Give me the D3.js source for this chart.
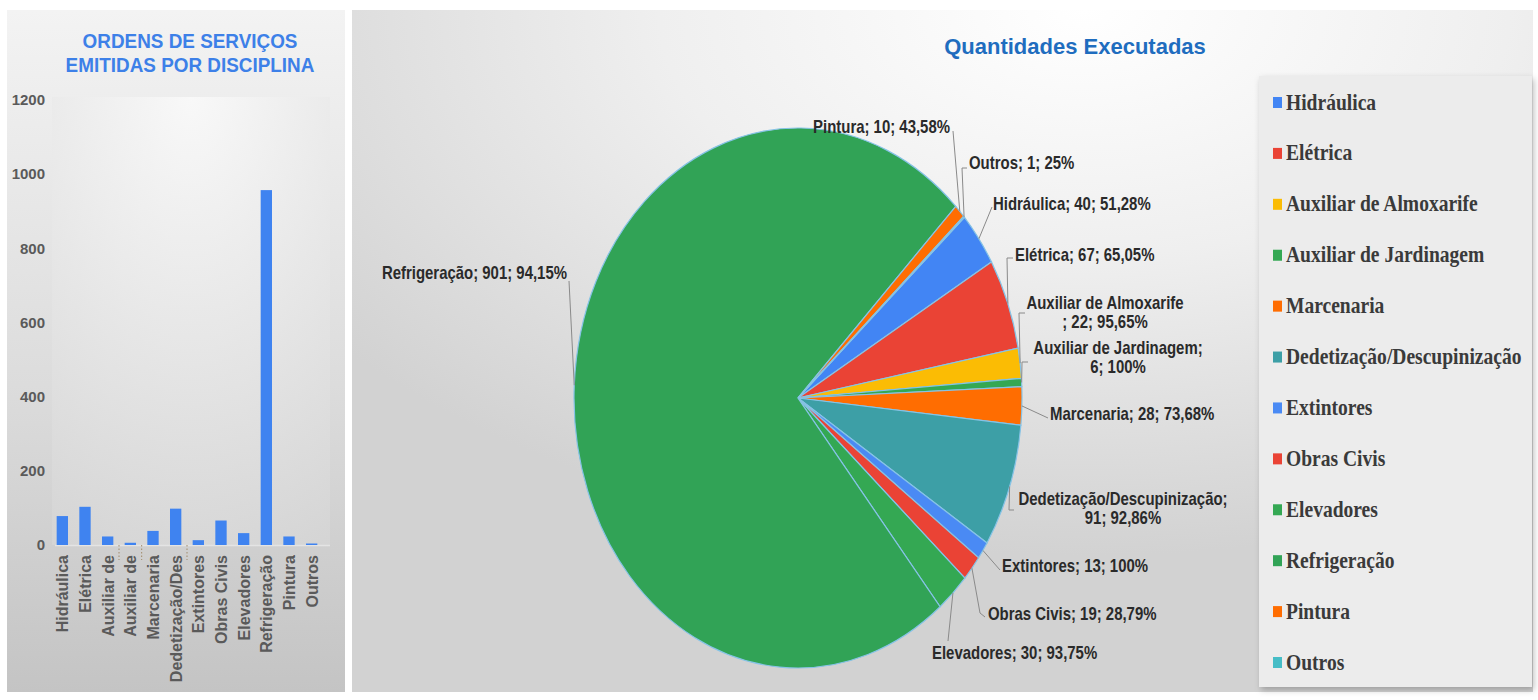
<!DOCTYPE html>
<html>
<head>
<meta charset="utf-8">
<script src="https://cdn.jsdelivr.net/npm/d3@7"></script>
<style>
  body { margin: 0; background: #fff; }
  svg { display: block; }
</style>
</head>
<body>
<svg id="chart" width="1538" height="700"></svg>
<script>
// ---- data ----
const categories = ["Hidráulica", "Elétrica", "Auxiliar de Almoxarife", "Auxiliar de Jardinagem",
  "Marcenaria", "Dedetização/Descupinização", "Extintores", "Obras Civis", "Elevadores",
  "Refrigeração", "Pintura", "Outros"];
const barLabels = ["Hidráulica", "Elétrica", "Auxiliar de", "Auxiliar de", "Marcenaria",
  "Dedetização/Des", "Extintores", "Obras Civis", "Elevadores", "Refrigeração", "Pintura", "Outros"];
const ordensEmitidas = [78, 103, 23, 6, 38, 98, 13, 66, 32, 957, 23, 4];
const executadas = [40, 67, 22, 6, 28, 91, 13, 19, 30, 901, 10, 1];
const percentLabels = ["51,28%", "65,05%", "95,65%", "100%", "73,68%", "92,86%", "100%",
  "28,79%", "93,75%", "94,15%", "43,58%", "25%"];
const yTicks = [0, 200, 400, 600, 800, 1000, 1200];
const sliceColors = ["#4285f4", "#ea4335", "#fbbc04", "#34a853", "#ff6d01", "#3d9fa6",
  "#4a8af4", "#ea4335", "#34a853", "#31a356", "#ff6d01", "#46bdc6"];

// ---- layout ----
const bar = { left: 51, right: 323, top: 100, bottom: 545 };
const pie = { cx: 798, cy: 398, r: 270, sx: 224 / 270, startDeg: 48 };
const labelFont = "'Liberation Sans', Arial, sans-serif";
const NARROW = 0.83;

// label placement per slice (screen px); wrap: how the text breaks into two lines
const labelLayout = [
  { x: 993, y: 209.5, anchor: "start", leader: [[992, 207]] },
  { x: 1015, y: 260.5, anchor: "start", leader: [[1013, 258], [1007, 258]] },
  { x: 1105, y: 308.5, anchor: "middle", wrap: "name", leader: [[1025, 313], [1019, 313]] },
  { x: 1118, y: 353.5, anchor: "middle", wrap: "semi", leader: [[1028, 362], [1022, 362]] },
  { x: 1050, y: 419.5, anchor: "start", leader: [[1048, 418]] },
  { x: 1123, y: 504.5, anchor: "middle", wrap: "semi", leader: [[1014, 510], [1009, 510]] },
  { x: 1002, y: 571.5, anchor: "start", leader: [[1000, 570]] },
  { x: 988, y: 619.5, anchor: "start", leader: [[985, 617], [980, 613]] },
  { x: 932, y: 658.5, anchor: "start", leader: [[948, 641]] },
  { x: 567, y: 278.5, anchor: "end", leader: [[569, 281]] },
  { x: 950, y: 132.5, anchor: "end", leader: [[953, 131]] },
  { x: 969, y: 168.5, anchor: "start", leader: [[967, 168], [962, 168]] }
];

const svg = d3.select("#chart");
const defs = svg.append("defs");

const lg = defs.append("linearGradient").attr("id", "leftBg").attr("x1", 0).attr("y1", 0).attr("x2", 0).attr("y2", 1);
lg.append("stop").attr("offset", 0).attr("stop-color", "#f3f3f3");
lg.append("stop").attr("offset", 0.55).attr("stop-color", "#dcdcdc");
lg.append("stop").attr("offset", 1).attr("stop-color", "#c4c4c4");

const pg = defs.append("radialGradient").attr("id", "plotBg").attr("cx", 0.5).attr("cy", 0).attr("r", 1.1);
pg.append("stop").attr("offset", 0).attr("stop-color", "#fbfbfb");
pg.append("stop").attr("offset", 1).attr("stop-color", "#d6d6d6");

const rg = defs.append("radialGradient").attr("id", "rightBg")
  .attr("cx", 0.62).attr("cy", 0).attr("r", 0.8);
rg.append("stop").attr("offset", 0).attr("stop-color", "#ffffff");
rg.append("stop").attr("offset", 0.45).attr("stop-color", "#efefef");
rg.append("stop").attr("offset", 1).attr("stop-color", "#d2d2d2");

const shadow = defs.append("filter").attr("id", "shadow").attr("x", -0.1).attr("y", -0.1).attr("width", 1.2).attr("height", 1.2);
shadow.append("feDropShadow").attr("dx", 2).attr("dy", 3).attr("stdDeviation", 3)
  .attr("flood-color", "#000").attr("flood-opacity", 0.25);

// ================= left: bar chart =================
svg.append("rect").attr("x", 7).attr("y", 10).attr("width", 338).attr("height", 682)
  .attr("fill", "url(#leftBg)");
svg.append("rect").attr("x", 52).attr("y", 97).attr("width", 278).attr("height", 448)
  .attr("fill", "url(#plotBg)").attr("opacity", 0.8);

const leftTitle = svg.append("g").attr("transform", "translate(190,0) scale(0.9,1)");
leftTitle.append("text")
  .attr("text-anchor", "middle").attr("font-family", labelFont).attr("font-weight", "bold")
  .attr("font-size", 21).attr("fill", "#3d80e8")
  .selectAll("tspan").data(["ORDENS DE SERVIÇOS", "EMITIDAS POR DISCIPLINA"]).join("tspan")
  .attr("x", 0).attr("y", (d, i) => 48 + i * 24).text(d => d);

const x = d3.scaleBand().domain(categories).range([bar.left, bar.right])
  .paddingInner(0.5).paddingOuter(0.25);
const y = d3.scaleLinear().domain([0, 1200]).range([bar.bottom, bar.top]);

const yAxis = svg.append("g").attr("transform", `translate(${bar.left - 6},0)`)
  .call(d3.axisLeft(y).tickValues(yTicks).tickFormat(d3.format("d")).tickSize(0).tickPadding(0));
yAxis.select(".domain").remove();
yAxis.selectAll("text").attr("font-family", labelFont).attr("font-weight", "bold")
  .attr("font-size", 15).attr("fill", "#5a5a5a");

svg.append("line").attr("x1", bar.left + 4).attr("x2", bar.right + 7)
  .attr("y1", bar.bottom + 0.5).attr("y2", bar.bottom + 0.5)
  .attr("stroke", "#e4e4e4").attr("stroke-width", 1.5);

svg.append("g").selectAll("rect").data(ordensEmitidas).join("rect")
  .attr("x", (d, i) => x(categories[i]))
  .attr("y", d => y(d))
  .attr("width", x.bandwidth())
  .attr("height", d => y(0) - y(d))
  .attr("fill", "#3f83f0");

// dotted separators next to cut-off category names
svg.append("g").selectAll("line")
  .data(barLabels.map((l, i) => ({ l, i })).filter(d => d.l !== categories[d.i]))
  .join("line")
  .attr("x1", d => x(categories[d.i]) + x.step() * 0.75)
  .attr("x2", d => x(categories[d.i]) + x.step() * 0.75)
  .attr("y1", bar.bottom).attr("y2", bar.bottom + 15)
  .attr("stroke", "#a08a6a").attr("stroke-dasharray", "1.5,2");

svg.append("g").selectAll("text").data(barLabels).join("text")
  .attr("transform", (d, i) => `translate(${x(categories[i]) + x.bandwidth() / 2 + 6},${bar.bottom + 10}) rotate(-90)`)
  .attr("text-anchor", "end")
  .attr("font-family", labelFont).attr("font-weight", "bold").attr("font-size", 16)
  .attr("fill", "#5a5a5a")
  .text(d => d);

// ================= right: pie chart =================
svg.append("rect").attr("x", 352).attr("y", 10).attr("width", 1181).attr("height", 682)
  .attr("fill", "url(#rightBg)");

svg.append("text").attr("x", 1075).attr("y", 54).attr("text-anchor", "middle")
  .attr("font-family", labelFont).attr("font-weight", "bold").attr("font-size", 22)
  .attr("fill", "#1f6dbf").text("Quantidades Executadas");

const a0 = pie.startDeg * Math.PI / 180;
const arcs = d3.pie().value(d => d).sort(null).startAngle(a0).endAngle(a0 + 2 * Math.PI)(executadas);
const arc = d3.arc().innerRadius(0).outerRadius(pie.r);

svg.append("g")
  .attr("transform", `translate(${pie.cx},${pie.cy}) scale(${pie.sx},1)`)
  .selectAll("path").data(arcs).join("path")
  .attr("d", arc)
  .attr("fill", (d, i) => sliceColors[i])
  .attr("stroke", "#86c3e6").attr("stroke-width", 1.2)
  .attr("vector-effect", "non-scaling-stroke");

const edgePoint = d => {
  const a = (d.startAngle + d.endAngle) / 2;
  return [pie.cx + pie.r * pie.sx * Math.sin(a), pie.cy - pie.r * Math.cos(a)];
};

svg.append("g").selectAll("polyline").data(arcs).join("polyline")
  .attr("points", (d, i) => labelLayout[i].leader.concat([edgePoint(d)]).map(p => p.join(",")).join(" "))
  .attr("fill", "none").attr("stroke", "#8a8a8a").attr("stroke-width", 1);

const labelText = i => {
  const name = categories[i], rest = `${executadas[i]}; ${percentLabels[i]}`;
  const wrap = labelLayout[i].wrap;
  if (wrap === "name") return [name, "; " + rest];
  if (wrap === "semi") return [name + ";", rest];
  return [`${name}; ${rest}`];
};

const labels = svg.append("g").selectAll("g").data(arcs).join("g")
  .attr("transform", (d, i) => `translate(${labelLayout[i].x},${labelLayout[i].y}) scale(${NARROW},1)`);
labels.append("text")
  .attr("text-anchor", (d, i) => labelLayout[i].anchor)
  .attr("font-family", labelFont).attr("font-weight", "bold").attr("font-size", 18)
  .attr("fill", "#2a2a2a")
  .selectAll("tspan").data((d, i) => labelText(i)).join("tspan")
  .attr("x", 0).attr("y", (d, j) => j * 20).text(d => d);

// ---- legend ----
svg.append("rect").attr("x", 1259).attr("y", 76).attr("width", 273).attr("height", 611)
  .attr("fill", "#ececec").attr("filter", "url(#shadow)");

const ly = d3.scalePoint().domain(categories).range([102, 662]);
const legend = svg.append("g").selectAll("g").data(categories).join("g")
  .attr("transform", d => `translate(1273,${ly(d)})`);
legend.append("rect").attr("x", 0).attr("y", -5).attr("width", 9).attr("height", 11)
  .attr("fill", (d, i) => sliceColors[i]);
legend.append("g").attr("transform", "translate(13,7.5) scale(0.85,1)")
  .append("text")
  .attr("font-family", "'Liberation Serif', 'Times New Roman', serif")
  .attr("font-weight", "bold").attr("font-size", 23).attr("fill", "#3a3a3a")
  .text(d => d);
</script>
</body>
</html>
